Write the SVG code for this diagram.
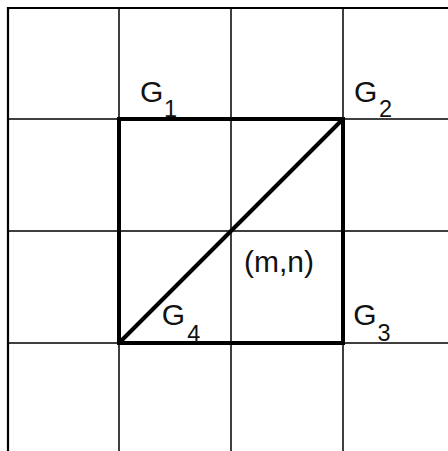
<svg xmlns="http://www.w3.org/2000/svg" width="448" height="451" viewBox="0 0 448 451">
<style>
.thin{stroke:#000;stroke-width:1.5;fill:none}
.outer{stroke:#000;stroke-width:2.2;fill:none}
.thick{stroke:#000;stroke-width:4;fill:none}
.lbl{font-family:"Liberation Sans",Arial,sans-serif;font-size:30px;fill:#111}
.sub{font-family:"Liberation Sans",Arial,sans-serif;font-size:23.5px;fill:#111}
</style>
<rect width="448" height="451" fill="#fff"/>
<g id="grid">
<path class="outer" d="M8,451 V8 H448"/>
<path class="thin" d="M119,8 V451 M231,8 V451 M343,8 V451 M8,119 H448 M8,231 H448 M8,343 H448"/>
</g>
<g id="connectors">
<rect class="thick" x="119" y="119" width="224" height="224"/>
<line class="thick" x1="119" y1="343" x2="343" y2="119"/>
</g>
<g id="G1"><text class="lbl" x="140" y="102">G</text><text class="sub" x="164" y="116.7">1</text></g>
<g id="G2"><text class="lbl" x="354" y="101.5">G</text><text class="sub" x="379" y="117">2</text></g>
<g id="G3"><text class="lbl" x="353.3" y="324.5">G</text><text class="sub" x="377.5" y="340.5">3</text></g>
<g id="G4"><text class="lbl" x="161.7" y="324.5">G</text><text class="sub" x="187.3" y="341.5">4</text></g>
<g id="mn"><text class="lbl" x="244" y="272">(m,n)</text></g>
</svg>
